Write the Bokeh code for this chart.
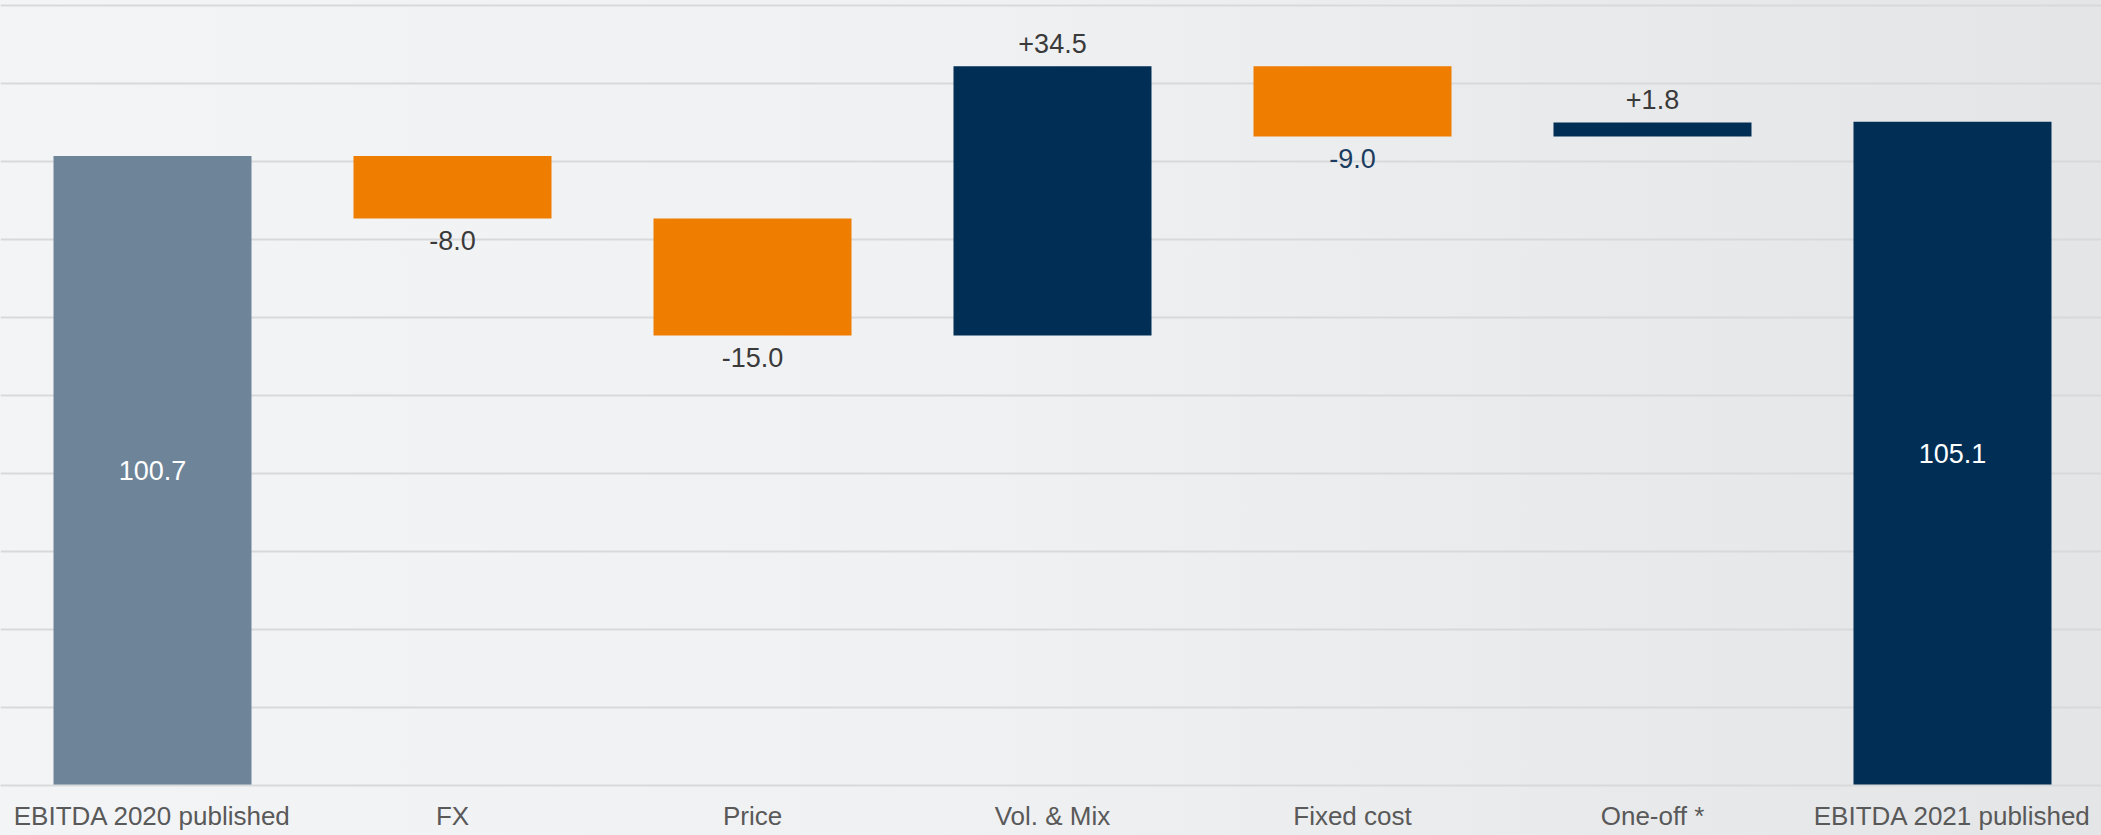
from bokeh.plotting import figure
from bokeh.models import ColumnDataSource, FixedTicker, Range1d, GlobalInlineStyleSheet
from bokeh.core.properties import value
from bokeh.embed import file_html
from bokeh.resources import INLINE

# ---- data ----
categories = ["EBITDA 2020 published", "FX", "Price", "Vol. & Mix",
              "Fixed cost", "One-off *", "EBITDA 2021 published"]
start_total = 100.7
deltas = [-8.0, -15.0, 34.5, -9.0, 1.8]
delta_labels = ["-8.0", "-15.0", "+34.5", "-9.0", "+1.8"]
end_total = 105.1
axis_min = 20
axis_max = 120
grid_step = 10

# ---- styles ----
FONT = "Liberation Sans"
C_START = "#6d8499"
C_NAVY = "#002e55"
C_ORANGE = "#ef7d00"
C_GRID = "#d8d9db"
C_TICK = "#595959"
delta_label_colors = ["#3a3a3a", "#3a3a3a", "#3a3a3a", "#1c3d60", "#3a3a3a"]
BAR_W = 0.66

W, H = 2101, 835
p = figure(width=W, height=H, output_backend="svg", toolbar_location=None,
           x_range=Range1d(-0.5067, 6.4967), y_range=Range1d(axis_min, axis_max + 0.64),
           min_border_left=0, min_border_right=0, min_border_top=0, min_border_bottom=50)
p.background_fill_color = None
p.border_fill_color = None
p.outline_line_color = None
p.stylesheets = [GlobalInlineStyleSheet(css=(
    "html { background: linear-gradient(to right, #f3f4f6 0%, #f0f1f3 45%, #e9eaec 75%, #e4e5e7 100%); }"
    "body { background: transparent; }"))]

# waterfall computation
xs = list(range(len(categories)))
bottoms, tops = [], []
run = start_total
for d in deltas:
    nxt = run + d
    bottoms.append(min(run, nxt))
    tops.append(max(run, nxt))
    run = nxt

delta_x = xs[1:-1]
delta_colors = [C_ORANGE if d < 0 else C_NAVY for d in deltas]

# totals
tot_src = ColumnDataSource(dict(x=[xs[0], xs[-1]], top=[start_total, end_total],
                                color=[C_START, C_NAVY],
                                mid=[(axis_min + start_total) / 2, (axis_min + end_total) / 2],
                                label=[f"{start_total:.1f}", f"{end_total:.1f}"]))
p.vbar(x="x", bottom=axis_min, top="top", width=BAR_W, source=tot_src,
       fill_color="color", line_color=None)
p.text(x="x", y="mid", text="label", source=tot_src, text_color="white",
       text_font=value(FONT), text_font_size="27px", text_align="center",
       text_baseline="middle")

# deltas
lab_y = [t if d > 0 else b for d, t, b in zip(deltas, tops, bottoms)]
lab_off = [-23 if d > 0 else 22 for d in deltas]
d_src = ColumnDataSource(dict(x=delta_x, bottom=bottoms, top=tops, color=delta_colors,
                              ly=lab_y, loff=lab_off, label=delta_labels,
                              lcolor=delta_label_colors))
p.vbar(x="x", bottom="bottom", top="top", width=BAR_W, source=d_src,
       fill_color="color", line_color=None)
p.text(x="x", y="ly", text="label", y_offset="loff", source=d_src, text_color="lcolor",
       text_font=value(FONT), text_font_size="27px", text_align="center",
       text_baseline="alphabetic")

# grid / axes
p.xgrid.visible = False
p.ygrid.ticker = FixedTicker(ticks=list(range(axis_min, axis_max + 1, grid_step)))
p.ygrid.grid_line_color = C_GRID
p.ygrid.grid_line_width = 2
p.yaxis.visible = False

p.xaxis.ticker = FixedTicker(ticks=xs)
p.xaxis.major_label_overrides = {i: c for i, c in zip(xs, categories)}
p.xaxis.axis_line_color = C_GRID
p.xaxis.axis_line_width = 2
p.xaxis.major_tick_line_color = None
p.xaxis.minor_tick_line_color = None
p.xaxis.major_tick_out = 0
p.xaxis.major_tick_in = 0
p.xaxis.major_label_standoff = 15
p.xaxis.major_label_text_font = FONT
p.xaxis.major_label_text_font_size = "26px"
p.xaxis.major_label_text_color = C_TICK

open("out.html", "w").write(file_html(p, INLINE))
